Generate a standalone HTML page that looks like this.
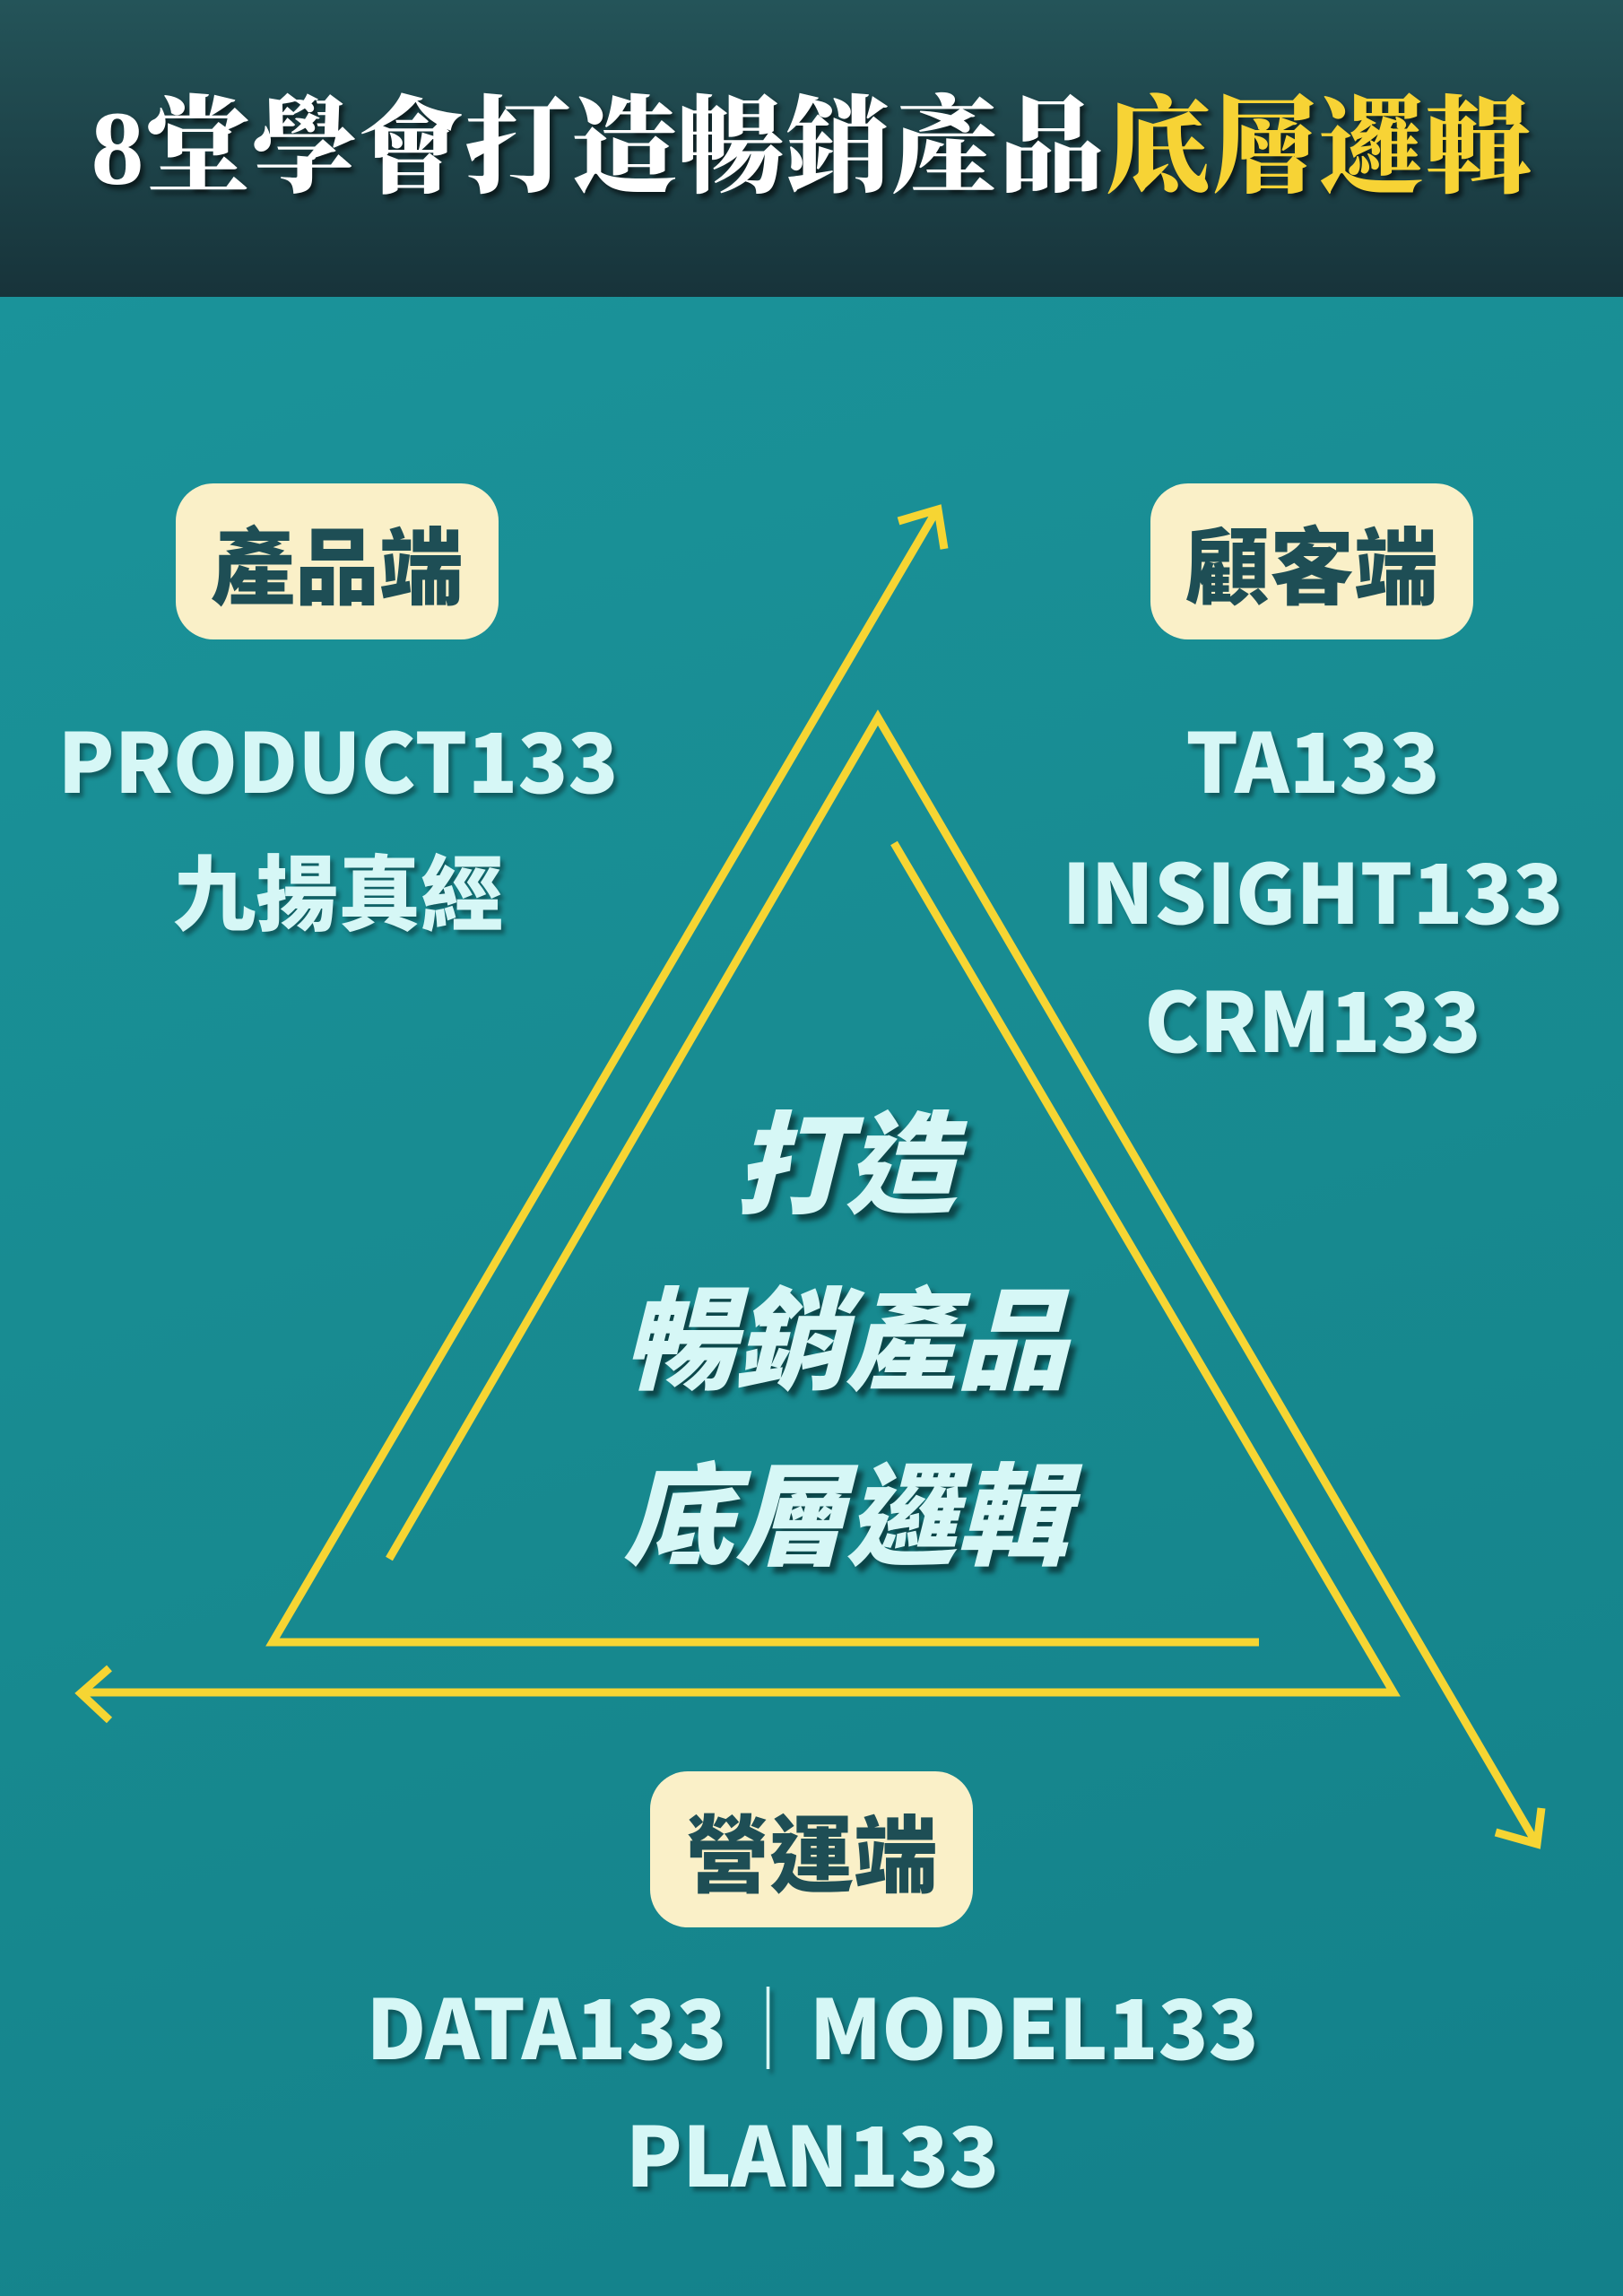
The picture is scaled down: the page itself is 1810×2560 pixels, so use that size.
<!DOCTYPE html>
<html><head><meta charset="utf-8"><style>
html,body{margin:0;padding:0}
body{width:1810px;height:2560px;position:relative;overflow:hidden;background:linear-gradient(160deg,#1b959c 0%,#17898f 60%,#13808a 100%);font-family:"Noto Sans CJK TC","Liberation Sans",sans-serif}
.hdr{position:absolute;left:0;top:0;width:1810px;height:331px;background:linear-gradient(180deg,#245459,#17333a);}
.title{position:absolute;left:0;top:0;width:1810px;height:331px;line-height:331px;text-align:center;font-family:"Liberation Serif","Noto Serif CJK SC",serif;font-weight:900;font-size:118px;color:#fff;text-shadow:4px 5px 6px rgba(0,0,0,.6);letter-spacing:1px}
.title span{color:#f7d335}
.box{position:absolute;width:360px;height:174px;background:#faf0c8;border-radius:42px;text-align:center;line-height:174px;font-weight:900;font-size:94px;color:#1e4e55}
.t{position:absolute;text-align:center;font-weight:900;font-size:92px;line-height:1;color:#d6f7f6;text-shadow:4px 5px 5px rgba(0,0,0,.35);white-space:nowrap;transform:translate(-50%,-50%)}
.c{position:absolute;left:943px;transform:translate(-50%,-50%);font-weight:900;font-style:italic;font-size:124px;line-height:1;color:#d6f7f6;text-shadow:6px 7px 6px rgba(0,0,0,.5);white-space:nowrap}
</style></head><body>
<div class="hdr"></div>
<div class="title">8堂學會打造暢銷產品<span>底層邏輯</span></div>
<svg style="position:absolute;left:0;top:0" width="1810" height="2560">
<g fill="none" stroke="#f6d533" stroke-width="9" stroke-linecap="butt" stroke-linejoin="miter">
<polyline points="1404,1831 304,1831 1044,570"/>
<polyline points="1002,581 1046,568 1053,612"/>
<polyline points="434,1738 979,800 1712,2053"/>
<polyline points="1668,2043 1714,2056 1719,2016"/>
<polyline points="997,940 1554,1887 90,1887"/>
<polyline points="122,1860 90,1888 122,1918"/>
</g></svg>
<div class="box" style="left:196px;top:539px">產品端</div>
<div class="box" style="left:1283px;top:539px">顧客端</div>
<div class="box" style="left:725px;top:1975px">營運端</div>
<div class="t" style="left:377px;top:845px">PRODUCT133</div>
<div class="t" style="left:377px;top:991px">九揚真經</div>
<div class="t" style="left:1464px;top:845px">TA133</div>
<div class="t" style="left:1464px;top:991px">INSIGHT133</div>
<div class="t" style="left:1464px;top:1134px">CRM133</div>
<div class="t" style="left:906px;top:2257px">DATA133<span style="font-weight:300">｜</span>MODEL133</div>
<div class="t" style="left:906px;top:2399px">PLAN133</div>
<div class="c" style="top:1289px">打造</div>
<div class="c" style="top:1485px">暢銷產品</div>
<div class="c" style="top:1681px">底層邏輯</div>
</body></html>
